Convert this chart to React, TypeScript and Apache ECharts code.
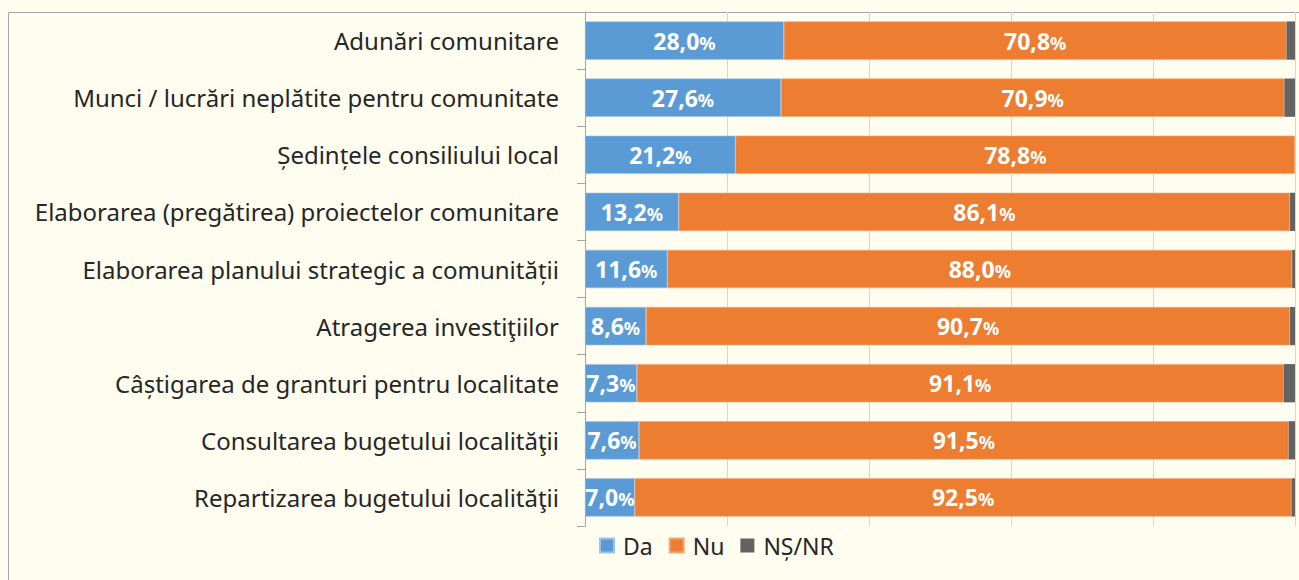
import React, { useEffect, useRef } from "react";
import * as echarts from "echarts";

const categories = [
  "Adunări comunitare",
  "Munci / lucrări neplătite pentru comunitate",
  "Ședințele consiliului local",
  "Elaborarea (pregătirea) proiectelor comunitare",
  "Elaborarea planului strategic a comunității",
  "Atragerea investiţiilor",
  "Câștigarea de granturi pentru localitate",
  "Consultarea bugetului localităţii",
  "Repartizarea bugetului localităţii",
];
const da = [28.0, 27.6, 21.2, 13.2, 11.6, 8.6, 7.3, 7.6, 7.0];
const nu = [70.8, 70.9, 78.8, 86.1, 88.0, 90.7, 91.1, 91.5, 92.5];
const nsnr = [1.2, 1.5, 0, 0.7, 0.4, 0.7, 1.6, 0.9, 0.5];
const xTicks = [0, 20, 40, 60, 80, 100];

const FONT = "'Noto Sans', 'Open Sans', sans-serif";

export default function App() {
  const ref = useRef<HTMLDivElement>(null);
  useEffect(() => {
    document.body.style.margin = "0";
    document.body.style.background = "#fefdf0";
    const chart = echarts.init(ref.current!, undefined, { renderer: "svg" });
    const label = {
      show: true,
      position: "inside",
      fontSize: 23,
      formatter: (p: any) =>
        `{v|${p.value.toFixed(1).replace(".", ",")}}{p|%}`,
      rich: {
        v: { fontFamily: FONT, fontWeight: "bold", fontSize: 23, color: "#ffffff" },
        p: { fontFamily: FONT, fontWeight: "bold", fontSize: 18, color: "#ffffff", padding: [4, 0, 0, 0] },
      },
    };
    chart.setOption({
      animation: false,
      backgroundColor: "#fefdf0",
      textStyle: { fontFamily: FONT },
      graphic: [
        {
          type: "rect",
          shape: { x: 8.5, y: 12.5, width: 1400, height: 700 },
          style: { fill: "none", stroke: "#a6a6a6", lineWidth: 1 },
          silent: true,
          z: -10,
        },
      ],
      legend: {
        left: 599,
        top: 534,
        padding: 0,
        itemWidth: 14,
        itemHeight: 14,
        itemGap: 16,
        icon: "rect",
        textStyle: { fontFamily: FONT, fontSize: 23, color: "#262626", padding: [0, 0, 0, 4] },
        data: ["Da", "Nu", "NȘ/NR"],
      },
      grid: { left: 585, right: 4, top: 12, bottom: 54 },
      xAxis: {
        type: "value",
        min: xTicks[0],
        max: xTicks[xTicks.length - 1],
        interval: 20,
        axisLabel: { show: false },
        axisLine: { show: false },
        axisTick: { show: false },
        splitLine: { show: true, lineStyle: { color: "#c6d9ef", width: 1 } },
      },
      yAxis: {
        type: "category",
        inverse: true,
        data: categories,
        axisLine: { show: true, lineStyle: { color: "#a6a6a6" } },
        axisTick: { show: true, length: 8, lineStyle: { color: "#a6a6a6" } },
        axisLabel: { fontFamily: FONT, fontSize: 24, color: "#262626", margin: 26 },
      },
      series: [
        {
          name: "Da",
          type: "bar",
          stack: "t",
          data: da,
          barCategoryGap: "33%",
          itemStyle: { color: "#5b9bd5", borderColor: "#9cc3e6", borderWidth: 0.6 },
          label,
        },
        {
          name: "Nu",
          type: "bar",
          stack: "t",
          data: nu,
          itemStyle: { color: "#ed7d31", borderColor: "#f4a775", borderWidth: 0.6 },
          label,
        },
        {
          name: "NȘ/NR",
          type: "bar",
          stack: "t",
          data: nsnr,
          itemStyle: { color: "#636363" },
          label: { show: false },
        },
      ],
    });
    return () => chart.dispose();
  }, []);
  return <div ref={ref} style={{ width: 1299, height: 580 }} />;
}
